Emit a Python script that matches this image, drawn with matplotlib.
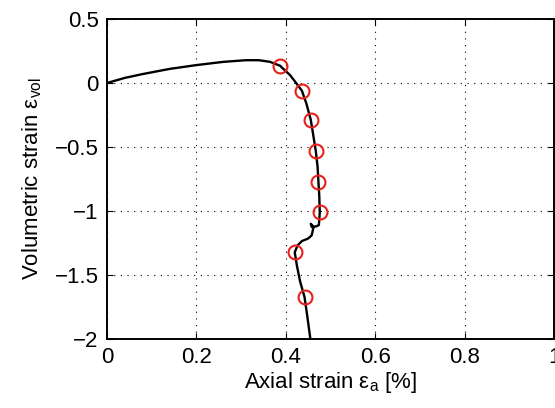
import numpy as np
import matplotlib
matplotlib.use('Agg')
import matplotlib.pyplot as plt

plt.rcParams['font.family'] = ['Liberation Sans', 'DejaVu Sans']

### Strain path (axial %, volumetric)
curve_ea = [0.0, 0.04, 0.08, 0.14, 0.20, 0.26, 0.31, 0.34, 0.365, 0.387, 0.41,
            0.436, 0.446, 0.456, 0.462, 0.467, 0.471, 0.473, 0.475, 0.476,
            0.475, 0.474, 0.468, 0.458, 0.456, 0.462, 0.458, 0.450, 0.436,
            0.426, 0.420, 0.425, 0.432, 0.442, 0.448, 0.455]
curve_ev = [0.0, 0.04, 0.07, 0.11, 0.14, 0.165, 0.178, 0.178, 0.165, 0.135, 0.06,
            -0.06, -0.16, -0.289, -0.42, -0.529, -0.65, -0.771, -0.89, -1.01,
            -1.06, -1.11, -1.12, -1.125, -1.10, -1.125, -1.19, -1.215, -1.235,
            -1.27, -1.323, -1.43, -1.55, -1.674, -1.82, -2.0]

### Marked states (red circles)
mark_ea = [0.387, 0.436, 0.456, 0.467, 0.473, 0.476, 0.420, 0.442]
mark_ev = [0.135, -0.060, -0.289, -0.529, -0.771, -1.010, -1.323, -1.674]

xticks = [0, 0.2, 0.4, 0.6, 0.8, 1]
yticks = [-2, -1.5, -1, -0.5, 0, 0.5]
xticklabels = ['0', '0.2', '0.4', '0.6', '0.8', '1']
yticklabels = ['\u22122', '\u22121.5', '\u22121', '\u22120.5', '0', '0.5']

fig = plt.figure(figsize=(5.55, 4.08), dpi=100)
ax = fig.add_axes([107/555., 1-339/408., (554-107)/555., (339-19)/408.])

ax.plot(curve_ea, curve_ev, color='k', lw=1.7, zorder=3)
ax.plot(mark_ea, mark_ev, 'o', mfc='none', mec='#e8201a', mew=1.5, ms=10,
        zorder=4)

ax.set_xlim(0, 1)
ax.set_ylim(-2, 0.5)
ax.set_xticks(xticks)
ax.set_xticklabels(xticklabels)
ax.set_yticks(yticks)
ax.set_yticklabels(yticklabels)
ax.grid(True, color='k', ls=(0, (1, 5)), lw=0.8)
ax.tick_params(direction='in', top=True, right=True, labelsize=16,
               length=4, width=0.8, pad=6)
for sp in ax.spines.values():
    sp.set_linewidth(1.4)

ax.set_xlabel(r'Axial strain $\mathregular{\varepsilon_a}$ [%]', fontsize=16,
              labelpad=1)
ax.set_ylabel(r'Volumetric strain $\mathregular{\varepsilon_{vol}}$', fontsize=16,
              labelpad=8)

fig.savefig('out.png', dpi=100)
